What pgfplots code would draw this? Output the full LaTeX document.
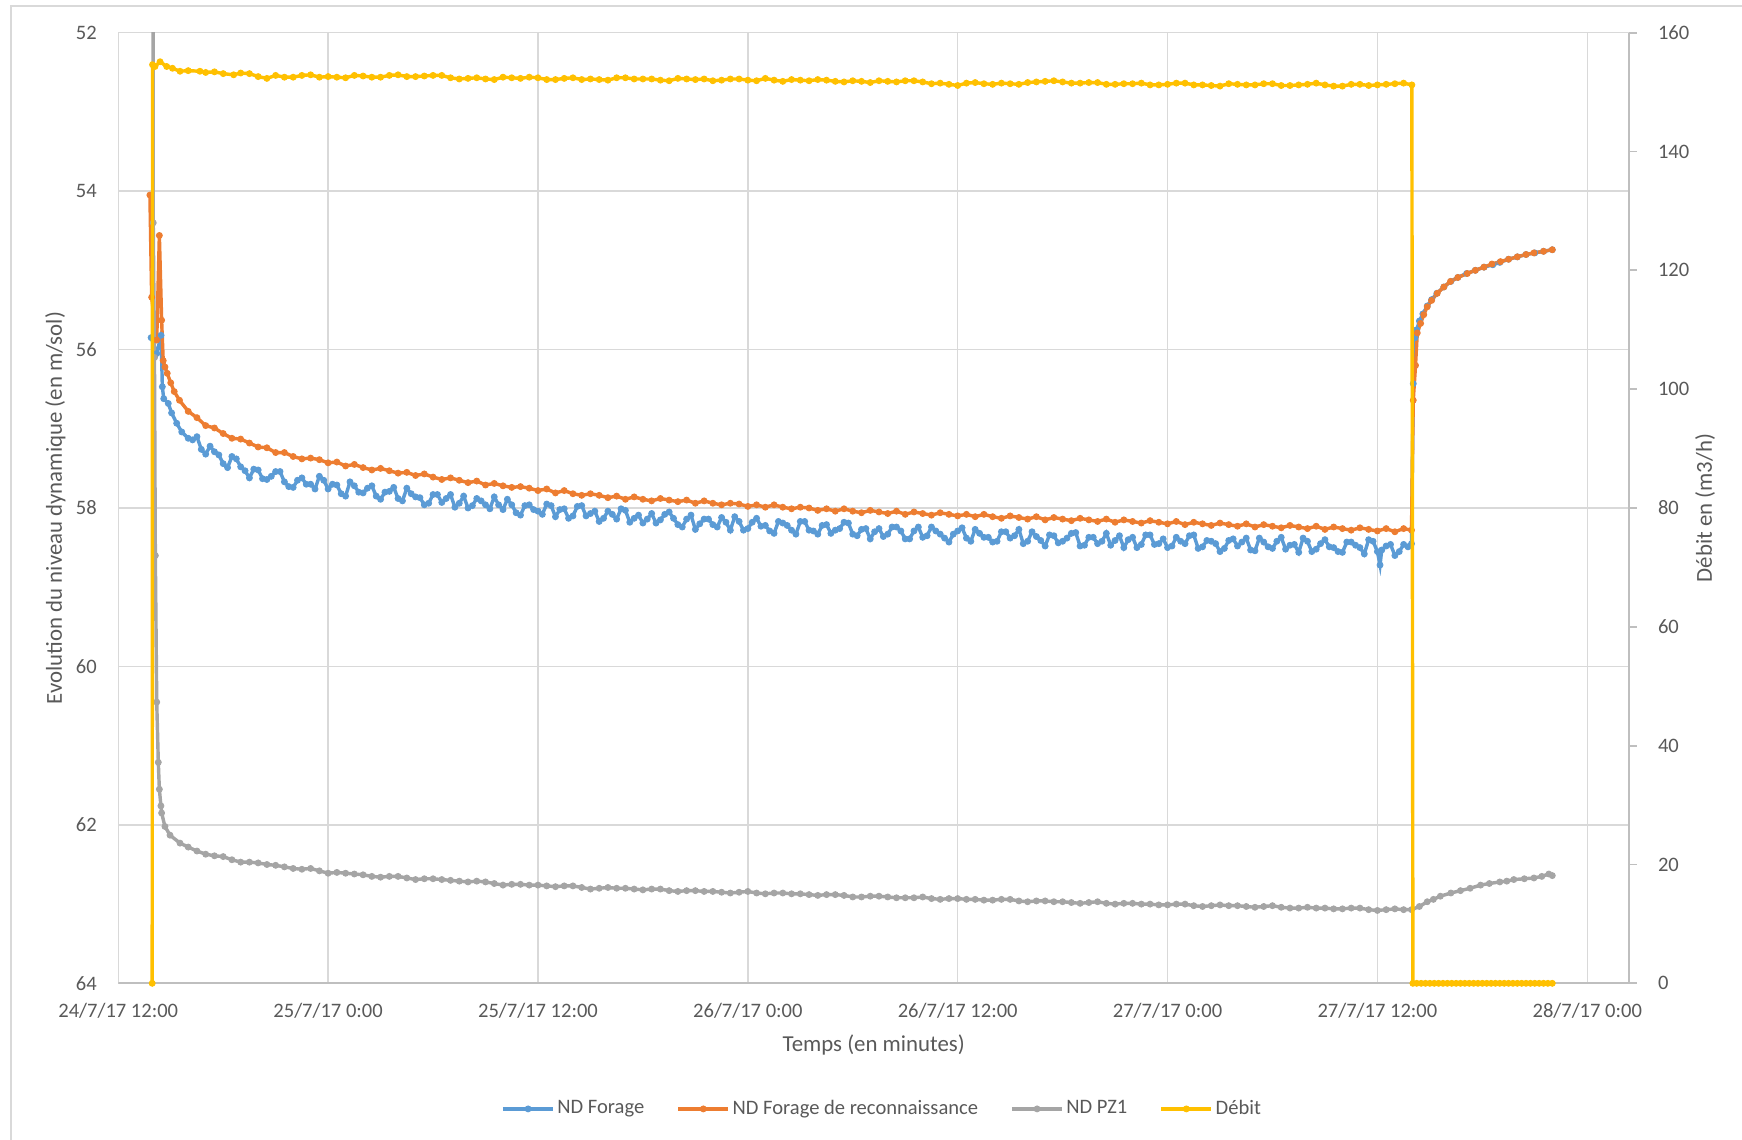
\documentclass[border=0pt]{standalone}
\usepackage{fontspec}
\setmainfont{Carlito}
\usepackage{pgfplots}
\pgfplotsset{compat=1.18}
\definecolor{bluec}{HTML}{5B9BD5}
\definecolor{orangec}{HTML}{ED7D31}
\definecolor{grayc}{HTML}{A5A5A5}
\definecolor{yellowc}{HTML}{FFC000}
\definecolor{gridc}{HTML}{D9D9D9}
\definecolor{axisc}{HTML}{BFBFBF}
\definecolor{textc}{HTML}{595959}
\begin{document}
\begin{tikzpicture}
\useasboundingbox (-51.8pt,-68.6pt) rectangle (711.2pt,430.7pt);
\draw[gridc, line width=0.6pt] (-47pt,-68.6pt) -- (-47pt,428.1pt) -- (711.2pt,428.1pt);
\pgfplotsset{
  every axis plot/.append style={line width=1.5pt, mark=*, mark size=1.3pt, mark options={line width=0.4pt}},
}
\begin{axis}[
  scale only axis, width=661.8pt, height=416.4pt,
  xmin=0, xmax=86.4, ymin=52, ymax=64, y dir=reverse,
  axis line style={draw=none},
  xtick={0,12,24,36,48,60,72,84},
  xticklabels={24/7/17 12:00,25/7/17 0:00,25/7/17 12:00,26/7/17 0:00,26/7/17 12:00,27/7/17 0:00,27/7/17 12:00,28/7/17 0:00},
  ytick={52,54,56,58,60,62,64},
  major tick length=0pt,
  grid=major, major grid style={draw=gridc, line width=0.6pt},
  tick label style={font=\fontsize{9}{10}\selectfont, text=textc},
  x tick label style={anchor=base, yshift=-15pt, inner sep=0pt},
  y tick label style={anchor=east, xshift=-9.2pt, inner sep=0pt},
  /pgf/number format/assume math mode=true,
  legend columns=4,
  legend style={at={(axis description cs:0.5057,-0.1321)}, anchor=center, draw=none, fill=none,
    font=\fontsize{9}{10}\selectfont, text=textc, nodes={inner sep=1.1pt},
    /tikz/every even column/.append style={column sep=13pt}},
  legend image code/.code={\draw[mark repeat=2,mark phase=2,#1] plot coordinates {(0pt,0pt) (11pt,0pt) (22pt,0pt)};},
]
\draw[axisc, line width=0.8pt] (axis cs:0,64) -- (axis cs:86.4,64);
% ND Forage
\addplot[color=bluec] coordinates {
(1.88,55.85) (2.2,56.05) (2.45,55.82) (2.52,56.47) (2.6,56.62) (2.86,56.68) (3.05,56.8) (3.34,56.93) (3.63,57.04)
(4.0,57.12) (4.25,57.14) (4.5,57.10) (4.75,57.26) (5.0,57.32) (5.25,57.22) (5.5,57.29) (5.75,57.33) (6.0,57.44) (6.25,57.49) (6.5,57.35) (6.75,57.38) (7.0,57.48) (7.25,57.53) (7.5,57.62) (7.75,57.51) (8.0,57.52) (8.25,57.63) (8.5,57.64) (8.75,57.60) (9.0,57.54) (9.25,57.54) (9.5,57.67) (9.75,57.73)
(10.0,57.74) (10.25,57.65) (10.5,57.62) (10.75,57.70) (11.0,57.70) (11.25,57.76) (11.5,57.60) (11.75,57.65) (12.0,57.76) (12.25,57.70) (12.5,57.71) (12.75,57.82) (13.0,57.85) (13.25,57.67) (13.5,57.72) (13.75,57.80) (14.0,57.81) (14.25,57.75) (14.5,57.72) (14.75,57.85) (15.0,57.89) (15.25,57.80) (15.5,57.79) (15.75,57.74) (16.0,57.88) (16.25,57.91) (16.5,57.75) (16.75,57.82) (17.0,57.86) (17.25,57.87) (17.5,57.96) (17.75,57.94) (18.0,57.83) (18.25,57.83) (18.5,57.93) (18.75,57.88) (19.0,57.83) (19.25,57.99) (19.5,57.94) (19.75,57.85)
(20.0,58.00) (20.25,57.97) (20.5,57.88) (20.75,57.91) (21.0,57.96) (21.25,58.01) (21.5,57.86) (21.75,57.96) (22.0,58.02) (22.25,57.89) (22.5,57.96) (22.75,58.06) (23.0,58.09) (23.25,57.97) (23.5,57.96) (23.75,58.02) (24.0,58.04) (24.25,58.08) (24.5,57.95) (24.75,57.97) (25.0,58.11) (25.25,58.02) (25.5,58.01) (25.75,58.13) (26.0,58.10) (26.25,57.98) (26.5,57.97) (26.75,58.10) (27.0,58.07) (27.25,58.04) (27.5,58.17) (27.75,58.13) (28.0,58.04) (28.25,58.08) (28.5,58.14) (28.75,58.01) (29.0,58.03) (29.25,58.18) (29.5,58.13) (29.75,58.09)
(30.0,58.19) (30.25,58.14) (30.5,58.07) (30.75,58.19) (31.0,58.15) (31.25,58.08) (31.5,58.05) (31.75,58.13) (32.0,58.21) (32.25,58.24) (32.5,58.14) (32.75,58.09) (33.0,58.27) (33.25,58.20) (33.5,58.14) (33.75,58.14) (34.0,58.21) (34.25,58.24) (34.5,58.12) (34.75,58.18) (35.0,58.28) (35.25,58.11) (35.5,58.17) (35.75,58.28) (36.0,58.26) (36.25,58.18) (36.5,58.13) (36.75,58.23) (37.0,58.22) (37.25,58.29) (37.5,58.32) (37.75,58.17) (38.0,58.19) (38.25,58.22) (38.5,58.28) (38.75,58.33) (39.0,58.17) (39.25,58.17) (39.5,58.28) (39.75,58.29)
(40.0,58.33) (40.25,58.22) (40.5,58.21) (40.75,58.32) (41.0,58.28) (41.25,58.26) (41.5,58.18) (41.75,58.19) (42.0,58.33) (42.25,58.35) (42.5,58.27) (42.75,58.26) (43.0,58.39) (43.25,58.30) (43.5,58.26) (43.75,58.36) (44.0,58.33) (44.25,58.24) (44.5,58.24) (44.75,58.29) (45.0,58.39) (45.25,58.39) (45.5,58.29) (45.75,58.24) (46.0,58.37) (46.25,58.35) (46.5,58.24) (46.75,58.29) (47.0,58.33) (47.25,58.38) (47.5,58.43) (47.75,58.33) (48.0,58.29) (48.25,58.25) (48.5,58.38) (48.75,58.42) (49.0,58.27) (49.25,58.32) (49.5,58.37) (49.75,58.37)
(50.0,58.43) (50.25,58.42) (50.5,58.30) (50.75,58.30) (51.0,58.38) (51.25,58.35) (51.5,58.27) (51.75,58.45) (52.0,58.42) (52.25,58.30) (52.5,58.36) (52.75,58.41) (53.0,58.48) (53.25,58.34) (53.5,58.35) (53.75,58.44) (54.0,58.42) (54.25,58.38) (54.5,58.32) (54.75,58.31) (55.0,58.48) (55.25,58.47) (55.5,58.37) (55.75,58.37) (56.0,58.45) (56.25,58.42) (56.5,58.32) (56.75,58.47) (57.0,58.41) (57.25,58.35) (57.5,58.50) (57.75,58.40) (58.0,58.37) (58.25,58.50) (58.5,58.46) (58.75,58.34) (59.0,58.34) (59.25,58.46) (59.5,58.45) (59.75,58.39)
(60.0,58.50) (60.25,58.48) (60.5,58.37) (60.75,58.42) (61.0,58.45) (61.25,58.35) (61.5,58.34) (61.75,58.51) (62.0,58.49) (62.25,58.41) (62.5,58.42) (62.75,58.45) (63.0,58.55) (63.25,58.51) (63.5,58.41) (63.75,58.39) (64.0,58.48) (64.25,58.43) (64.5,58.38) (64.75,58.53) (65.0,58.54) (65.25,58.38) (65.5,58.43) (65.75,58.49) (66.0,58.51) (66.25,58.42) (66.5,58.37) (66.75,58.52) (67.0,58.47) (67.25,58.46) (67.5,58.56) (67.75,58.38) (68.0,58.42) (68.25,58.55) (68.5,58.52) (68.75,58.45) (69.0,58.40) (69.25,58.49) (69.5,58.50) (69.75,58.55)
(70.0,58.56) (70.25,58.43) (70.5,58.43) (70.75,58.47) (71.0,58.50) (71.25,58.58) (71.5,58.40) (71.75,58.42) (72.0,58.55) (72.15,58.72) (72.25,58.53) (72.5,58.48) (72.75,58.46) (73.0,58.60) (73.25,58.55) (73.5,58.46) (73.75,58.49) (73.95,58.45)
(74.05,56.43) (74.15,55.85) (74.25,55.75) (74.4,55.64) (74.6,55.55) (74.85,55.45) (75.1,55.37) (75.4,55.29) (75.8,55.21) (76.2,55.14) (76.6,55.09) (77.1,55.04) (77.6,55.00) (78.1,54.96) (78.6,54.93) (79.0,54.90) (79.5,54.86) (80.0,54.83) (80.5,54.80) (81.0,54.78) (81.5,54.76) (82.0,54.74)
};
\addlegendentry{ND Forage}
% ND Forage de reconnaissance
\addplot[color=orangec] coordinates {
(1.81,54.05) (1.91,55.34) (2.2,55.88) (2.35,54.56) (2.48,55.63) (2.57,56.14) (2.67,56.22) (2.8,56.30) (3.0,56.42) (3.2,56.53)
(3.5,56.64) (4.0,56.78) (4.5,56.86) (5.0,56.96) (5.5,56.99) (6.0,57.06) (6.5,57.12) (7.0,57.13) (7.5,57.18) (8.0,57.23) (8.5,57.24) (9.0,57.30) (9.5,57.30) (10.0,57.35) (10.5,57.38) (11.0,57.37) (11.5,57.39) (12.0,57.43) (12.5,57.42) (13.0,57.47) (13.5,57.45) (14.0,57.49) (14.5,57.52) (15.0,57.50) (15.5,57.53) (16.0,57.56) (16.5,57.55) (17.0,57.59) (17.5,57.57) (18.0,57.61) (18.5,57.64) (19.0,57.62) (19.5,57.65) (20.0,57.68) (20.5,57.66) (21.0,57.71) (21.5,57.69) (22.0,57.72) (22.5,57.74) (23.0,57.73) (23.5,57.75) (24.0,57.78) (24.5,57.76) (25.0,57.81) (25.5,57.78) (26.0,57.82) (26.5,57.84) (27.0,57.82) (27.5,57.84) (28.0,57.87) (28.5,57.85) (29.0,57.89) (29.5,57.86) (30.0,57.89) (30.5,57.91) (31.0,57.88) (31.5,57.90) (32.0,57.92) (32.5,57.90) (33.0,57.94) (33.5,57.91) (34.0,57.94) (34.5,57.96) (35.0,57.94) (35.5,57.95) (36.0,57.98) (36.5,57.96) (37.0,57.99) (37.5,57.96) (38.0,57.99) (38.5,58.01) (39.0,57.99) (39.5,58.00) (40.0,58.03) (40.5,58.01) (41.0,58.04) (41.5,58.01) (42.0,58.04) (42.5,58.06) (43.0,58.03) (43.5,58.05) (44.0,58.07) (44.5,58.04) (45.0,58.08) (45.5,58.05) (46.0,58.07) (46.5,58.09) (47.0,58.06) (47.5,58.08) (48.0,58.10) (48.5,58.08) (49.0,58.11) (49.5,58.08) (50.0,58.11) (50.5,58.13) (51.0,58.10) (51.5,58.12) (52.0,58.14) (52.5,58.11) (53.0,58.15) (53.5,58.12) (54.0,58.14) (54.5,58.16) (55.0,58.13) (55.5,58.15) (56.0,58.17) (56.5,58.14) (57.0,58.18) (57.5,58.15) (58.0,58.17) (58.5,58.19) (59.0,58.16) (59.5,58.18) (60.0,58.20) (60.5,58.17) (61.0,58.21) (61.5,58.18) (62.0,58.20) (62.5,58.22) (63.0,58.19) (63.5,58.21) (64.0,58.23) (64.5,58.20) (65.0,58.24) (65.5,58.21) (66.0,58.23) (66.5,58.25) (67.0,58.22) (67.5,58.24) (68.0,58.26) (68.5,58.23) (69.0,58.27) (69.5,58.24) (70.0,58.26) (70.5,58.28) (71.0,58.25) (71.5,58.27) (72.0,58.29) (72.5,58.26) (73.0,58.30) (73.5,58.26) (73.95,58.28)
(74.05,56.64) (74.18,56.20) (74.28,55.79) (74.47,55.67) (74.65,55.56) (74.85,55.46) (75.1,55.38) (75.42,55.29) (75.8,55.21) (76.18,55.14) (76.6,55.09) (77.14,55.04) (77.6,55.00) (78.09,54.96) (78.55,54.92) (79.04,54.89) (79.5,54.86) (80.0,54.83) (80.5,54.80) (80.95,54.78) (81.5,54.76) (82.0,54.74)
};
\addlegendentry{ND Forage de reconnaissance}
% ND PZ1
\addplot[color=grayc] coordinates {
(1.97,40) (2.0,54.4) (2.07,56.1) (2.12,58.6) (2.2,60.45) (2.29,61.21) (2.35,61.55) (2.44,61.76) (2.48,61.85) (2.67,62.02) (2.96,62.13) (3.53,62.23)
(4,62.28) (4.5,62.33) (5,62.37) (5.5,62.39) (6,62.40) (6.5,62.44) (7,62.47) (7.5,62.47) (8,62.48) (8.5,62.50) (9,62.51) (9.5,62.53) (10,62.55) (10.5,62.56) (11,62.55) (11.5,62.58) (12,62.61) (12.5,62.60) (13,62.61) (13.5,62.62) (14,62.63) (14.5,62.65) (15,62.66) (15.5,62.65) (16,62.65) (16.5,62.67) (17,62.69) (17.5,62.68) (18,62.68) (18.5,62.69) (19,62.70) (19.5,62.71) (20,62.72) (20.5,62.71) (21,62.72) (21.5,62.74) (22,62.76) (22.5,62.75) (23,62.75) (23.5,62.76) (24,62.76) (24.5,62.77) (25,62.78) (25.5,62.77) (26,62.77) (26.5,62.79) (27,62.81) (27.5,62.80) (28,62.79) (28.5,62.80) (29,62.80) (29.5,62.81) (30,62.82) (30.5,62.81) (31,62.81) (31.5,62.83) (32,62.84) (32.5,62.83) (33,62.83) (33.5,62.84) (34,62.84) (34.5,62.85) (35,62.86) (35.5,62.85) (36,62.84) (36.5,62.86) (37,62.87) (37.5,62.86) (38,62.86) (38.5,62.87) (39,62.87) (39.5,62.88) (40,62.89) (40.5,62.88) (41,62.88) (41.5,62.89) (42,62.91) (42.5,62.91) (43,62.90) (43.5,62.90) (44,62.91) (44.5,62.92) (45,62.92) (45.5,62.92) (46,62.91) (46.5,62.93) (47,62.94) (47.5,62.93) (48,62.93) (48.5,62.94) (49,62.94) (49.5,62.95) (50,62.95) (50.5,62.94) (51,62.94) (51.5,62.96) (52,62.97) (52.5,62.96) (53,62.96) (53.5,62.97) (54,62.97) (54.5,62.98) (55,62.99) (55.5,62.98) (56,62.97) (56.5,62.99) (57,63.00) (57.5,62.99) (58,62.99) (58.5,63.00) (59,63.00) (59.5,63.01) (60,63.01) (60.5,63.00) (61,63.00) (61.5,63.02) (62,63.03) (62.5,63.02) (63,63.01) (63.5,63.02) (64,63.02) (64.5,63.03) (65,63.04) (65.5,63.03) (66,63.02) (66.5,63.04) (67,63.05) (67.5,63.05) (68,63.04) (68.5,63.05) (69,63.05) (69.5,63.06) (70,63.06) (70.5,63.05) (71,63.05) (71.5,63.07) (72,63.08) (72.5,63.07) (73,63.06) (73.5,63.07) (73.95,63.07)
(74.4,63.03) (74.85,62.97) (75.2,62.94) (75.6,62.90) (76.2,62.86) (76.75,62.83) (77.3,62.80) (77.9,62.76) (78.4,62.74) (79.0,62.72) (79.4,62.71) (79.8,62.69) (80.4,62.68) (80.95,62.67) (81.4,62.65) (81.8,62.62) (82.0,62.64)
};
\addlegendentry{ND PZ1}
\addlegendimage{color=yellowc, line width=1.5pt, mark=*, mark size=1.3pt, mark options={line width=0.4pt}}
\addlegendentry{Débit}
\end{axis}
\begin{axis}[
  scale only axis, width=661.8pt, height=416.4pt,
  xmin=0, xmax=86.4, ymin=0, ymax=160,
  axis x line=none, axis y line*=right,
  y axis line style={draw=axisc, line width=0.8pt},
  ytick={0,20,40,60,80,100,120,140,160},
  tick align=outside, major tick length=3.2pt,
  ytick style={draw=axisc, line width=0.8pt},
  tick label style={font=\fontsize{9}{10}\selectfont, text=textc},
  y tick label style={anchor=west, xshift=9.2pt, inner sep=0pt},
  /pgf/number format/assume math mode=true,
  clip=false,
]
\addplot[color=yellowc] coordinates {
(1.94,0) (1.96,154.6) (2.1,154.3) (2.39,155.1) (2.77,154.3) (3.1,154.0) (3.53,153.5) (4,153.6) (4.67,153.5) (5,153.3) (5.5,153.4) (6,153.1) (6.6,152.9) (7,153.2) (7.5,153.1) (8,152.6) (8.5,152.3) (9,152.8) (9.5,152.5) (10,152.5) (10.5,152.8) (11,152.9) (11.5,152.5) (12,152.6) (12.5,152.5) (13,152.4) (13.5,152.8) (14,152.7) (14.5,152.5) (15,152.5) (15.5,152.8) (16,152.9) (16.5,152.6) (17,152.6) (17.5,152.7) (18,152.8) (18.5,152.8) (19,152.4) (19.5,152.2) (20,152.3) (20.5,152.4) (21,152.2) (21.5,152.1) (22,152.5) (22.5,152.4) (23,152.3) (23.5,152.5) (24,152.4) (24.5,152.1) (25,152.1) (25.5,152.3) (26,152.4) (26.5,152.1) (27,152.2) (27.5,152.1) (28,152.0) (28.5,152.4) (29,152.4) (29.5,152.2) (30,152.2) (30.5,152.2) (31,152.0) (31.5,151.9) (32,152.3) (32.5,152.2) (33,152.1) (33.5,152.2) (34,151.9) (34.5,152.0) (35,152.2) (35.5,152.2) (36,152.0) (36.5,151.9) (37,152.3) (37.5,152.0) (38,151.8) (38.5,152.1) (39,152.0) (39.5,151.9) (40,152.1) (40.5,152.0) (41,151.8) (41.5,151.7) (42,151.9) (42.5,151.8) (43,151.6) (43.5,151.9) (44,151.8) (44.5,151.7) (45,151.9) (45.5,151.9) (46,151.7) (46.5,151.4) (47,151.5) (47.5,151.3) (48,151.1) (48.5,151.5) (49,151.6) (49.5,151.4) (50,151.3) (50.5,151.5) (51,151.4) (51.5,151.3) (52,151.6) (52.5,151.7) (53,151.8) (53.5,151.9) (54,151.7) (54.5,151.5) (55,151.5) (55.5,151.6) (56,151.6) (56.5,151.3) (57,151.3) (57.5,151.4) (58,151.4) (58.5,151.5) (59,151.2) (59.5,151.2) (60,151.3) (60.5,151.5) (61,151.5) (61.5,151.2) (62,151.2) (62.5,151.1) (63,151.0) (63.5,151.4) (64,151.3) (64.5,151.2) (65,151.2) (65.5,151.4) (66,151.4) (66.5,151.1) (67,151.1) (67.5,151.2) (68,151.3) (68.5,151.5) (69,151.2) (69.5,151.0) (70,151.0) (70.5,151.3) (71,151.3) (71.5,151.1) (72,151.2) (72.5,151.3) (73,151.4) (73.5,151.5) (73.97,151.2)
(74.03,0) (74.25,0) (74.5,0) (74.75,0) (75,0) (75.25,0) (75.5,0) (75.75,0) (76,0) (76.25,0) (76.5,0) (76.75,0) (77,0) (77.25,0) (77.5,0) (77.75,0) (78,0) (78.25,0) (78.5,0) (78.75,0) (79,0) (79.25,0) (79.5,0) (79.75,0) (80,0) (80.25,0) (80.5,0) (80.75,0) (81,0) (81.25,0) (81.5,0) (81.75,0) (82,0)
};
\end{axis}
\node[rotate=90, font=\fontsize{10}{12}\selectfont, text=textc] at (-27.5pt,208.2pt) {Evolution du niveau dynamique (en m/sol)};
\node[rotate=90, font=\fontsize{10}{12}\selectfont, text=textc] at (695pt,208.2pt) {Débit en (m3/h)};
\node[font=\fontsize{10}{12}\selectfont, text=textc] at (330.9pt,-27.2pt) {Temps (en minutes)};
\end{tikzpicture}
\end{document}
